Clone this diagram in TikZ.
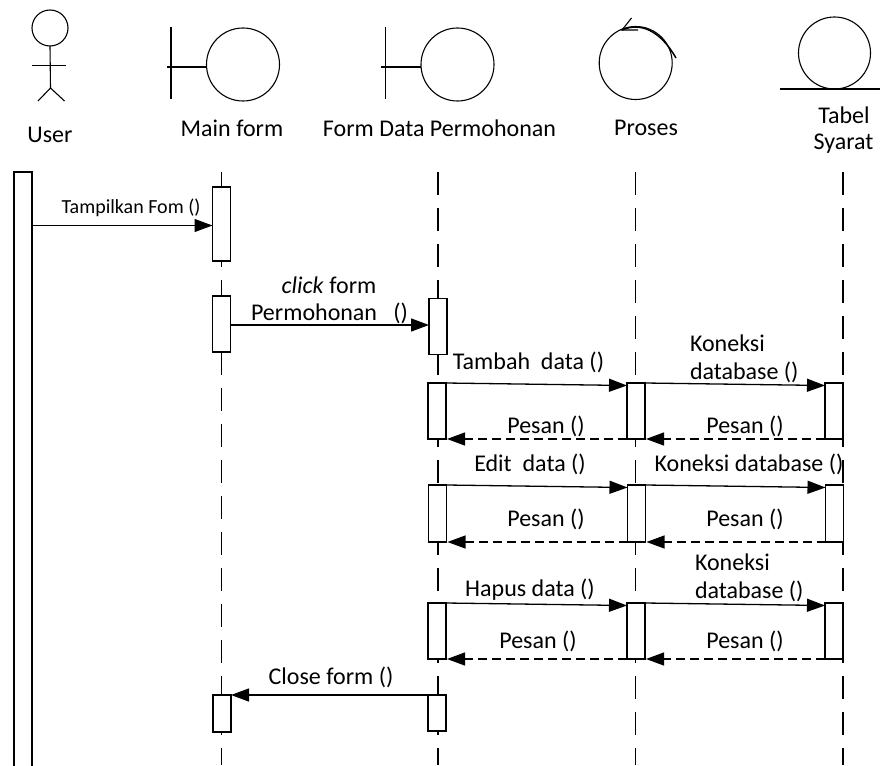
\documentclass[tikz,border=0pt]{standalone}
\usepackage{fontspec}
\setmainfont{Carlito}
\usetikzlibrary{arrows.meta}
\tikzset{
	lbl/.style={inner sep=0, outer sep=0, font=\fontsize{24pt}{28pt}\selectfont},
	lblsmall/.style={inner sep=0, outer sep=0, font=\fontsize{20pt}{24pt}\selectfont},
	bar/.style={draw, fill=white, line width=1.1pt, minimum width=18pt, inner sep=0, outer sep=0},
	head/.style={draw, circle, line width=1.1pt, inner sep=0, outer sep=0},
	lifeline/.style={line width=1.1pt, dash pattern=on 23pt off 13pt},
	msg/.style={line width=1.3pt, -{Triangle[length=18pt,width=13pt]}, shorten >=0pt},
	reply/.style={line width=1.2pt, dash pattern=on 9pt off 5pt, -{Triangle[length=18pt,width=13pt,sep=1pt]}},
	icon/.style={line width=1.1pt}
}
\begin{document}
\begin{tikzpicture}[x=1pt,y=-1pt,line cap=butt]
	\useasboundingbox (0,0) rectangle (880,765);
	% icons
	\node[head, minimum size=36pt] (userhead) at (50,28) {};
	\draw[icon] (userhead.south) -- (50.5,88) coordinate (userhip);
	\draw[icon] (32,65.5) -- (66,65.5);
	\draw[icon] (38,101) -- (userhip) -- (64.5,101);
	\node[head, minimum size=73pt] (maincirc) at (243,64.5) {};
	\draw[icon] ([yshift=-2.5pt]maincirc.west) -- ++(-40,0);
	\draw[icon] (171,27) -- (171,99.5);
	\node[head, minimum size=73pt] (formcirc) at (457.5,64.5) {};
	\draw[icon] ([yshift=-2.5pt]formcirc.west) -- ++(-40,0);
	\draw[icon] (385.5,27) -- (385.5,99.5);
	\node[head, minimum size=73pt] (prosescirc) at (635.7,63) {};
	\draw[line width=1.5pt] (622,30) .. controls (640,22) and (660,30) .. (676,58);
	\draw[icon] (631.5,18) -- (622,30) -- (638,30);
	\node[head, minimum size=72pt] (tabelcirc) at (834.5,53) {};
	\draw[icon] (780,89) -- (880,89);
	% names
	\node[lbl] (userlbl) at (50,135) {User};
	\node[lbl] (mainlbl) at (232,128) {Main form};
	\node[lbl] (formlbl) at (439.5,128) {Form Data Permohonan};
	\node[lbl] (proseslbl) at (646,128) {Proses};
	\node[lbl] (tabellbl) at (844,115) {Tabel};
	\node[lbl] (syaratlbl) at (843.5,144) {Syarat};
	% lifelines
	\draw[lifeline] (221.5,172) -- (221.5,765);
	\draw[lifeline] (438,172) -- (438,765);
	\draw[lifeline] (635.7,172) -- (635.7,765);
	\draw[lifeline] (843,172) -- (843,765);
	% activation bars
	\node[bar, minimum height=600pt] (userbar) at (23,472) {};
	\node[bar, minimum height=74pt] (mainA) at (221.5,224) {};
	\node[bar, minimum height=56pt] (mainB) at (221.5,324) {};
	\node[bar, minimum height=37pt] (mainC) at (222,713.5) {};
	\node[bar, minimum height=56pt] (formA) at (438,326.5) {};
	\node[bar, minimum height=56pt] (formB) at (437,411) {};
	\node[bar, minimum height=57pt] (formC) at (437.5,513.5) {};
	\node[bar, minimum height=56pt] (formD) at (437,631) {};
	\node[bar, minimum height=36pt] (formE) at (437,713) {};
	\node[bar, minimum height=56pt] (prosA) at (636,411) {};
	\node[bar, minimum height=57pt] (prosB) at (636.5,513.5) {};
	\node[bar, minimum height=56pt] (prosC) at (636,631) {};
	\node[bar, minimum height=56pt] (tabelA) at (834,411) {};
	\node[bar, minimum height=57pt] (tabelB) at (834.5,513.5) {};
	\node[bar, minimum height=56pt] (tabelC) at (834,631) {};
	% messages
	\draw[msg] ([yshift=-1.5pt]userbar.east |- mainA.west) -- ([yshift=-1.5pt]mainA.west);
	\draw[msg] ([yshift=-1pt]mainB.east) -- ([yshift=-1pt]formA.west |- mainB.east);
	\draw[msg] (formB.north east) -- ([yshift=-2.5pt]prosA.north west);
	\draw[msg] (prosA.north east) -- ([yshift=-2.5pt]tabelA.north west);
	\draw[reply] (prosA.south west) -- (formB.south east);
	\draw[reply] (tabelA.south west) -- (prosA.south east);
	\draw[msg] (formC.north east) -- ([yshift=-2.5pt]prosB.north west);
	\draw[msg] (prosB.north east) -- ([yshift=-2.5pt]tabelB.north west);
	\draw[reply] (prosB.south west) -- (formC.south east);
	\draw[reply] (tabelB.south west) -- (prosB.south east);
	\draw[msg] (formD.north east) -- ([yshift=-2.5pt]prosC.north west);
	\draw[msg] (prosC.north east) -- ([yshift=-2.5pt]tabelC.north west);
	\draw[reply] (prosC.south west) -- (formD.south east);
	\draw[reply] (tabelC.south west) -- (prosC.south east);
	\draw[msg] (formE.north west) -- (mainC.north east);
	% message labels
	\node[lblsmall] (showlbl) at (131,208) {Tampilkan Fom ()};
	\node[lbl] (clicklbl) at (329,285) {\textit{click} form};
	\node[lbl] (permlbl) at (329.5,313) {Permohonan~~~()};
	\node[lbl] (addlbl) at (528.5,362) {Tambah~~data ()};
	\node[lbl, anchor=west] (konAlbl) at (690,343) {Koneksi};
	\node[lbl, anchor=west] (dbAlbl) at (690,372) {database ()};
	\node[lbl] (msgA) at (546,426) {Pesan ()};
	\node[lbl] (msgB) at (745,426) {Pesan ()};
	\node[lbl] (editlbl) at (530,464) {Edit~~data ()};
	\node[lbl] (konBlbl) at (749,464) {Koneksi database ()};
	\node[lbl] (msgC) at (546,519) {Pesan ()};
	\node[lbl] (msgD) at (745,519) {Pesan ()};
	\node[lbl] (dellbl) at (530,590) {Hapus data ()};
	\node[lbl, anchor=west] (konClbl) at (695,562) {Koneksi};
	\node[lbl, anchor=west] (dbClbl) at (695,591) {database ()};
	\node[lbl] (msgE) at (538,641) {Pesan ()};
	\node[lbl] (msgF) at (745,641) {Pesan ()};
	\node[lbl] (closelbl) at (331,677) {Close form ()};
\end{tikzpicture}
\end{document}
